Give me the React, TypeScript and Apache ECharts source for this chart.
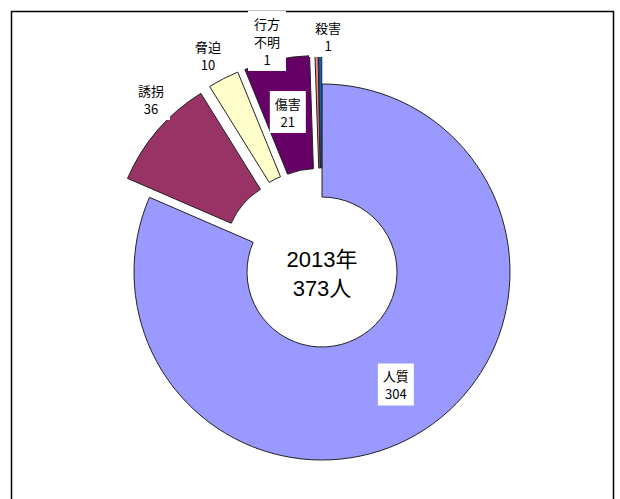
import React, { useEffect, useRef } from "react";
import * as echarts from "echarts";

const categories = ["人質", "誘拐", "脅迫", "傷害", "行方不明", "殺害"];
const labelNames = ["人質", "誘拐", "脅迫", "傷害", "行方\n不明", "殺害"];
const values = [304, 36, 10, 21, 1, 1];
const exploded = [false, true, true, true, true, true];
const colors = ["#9999FF", "#993366", "#FFFFCC", "#660066", "#FF8080", "#0066CC"];
const yearLabel = "2013年";
const unit = "人";

// placements for the labels drawn outside the ring (by category)
const outsideLabelPos: Record<string, [number, number]> = {
  誘拐: [151, 99],
  脅迫: [208, 55],
  行方不明: [267, 41],
  殺害: [328, 36],
};

const labelFont = "'Noto Sans CJK JP', sans-serif";

export default function App() {
  const ref = useRef<HTMLDivElement>(null);
  useEffect(() => {
    if (!ref.current) return;
    const chart = echarts.init(ref.current, null, { renderer: "svg" });
    const total = values.reduce((a, b) => a + b, 0);
    const data = categories.map((name, i) => ({
      name,
      value: values[i],
      selected: exploded[i],
      itemStyle: { color: colors[i] },
      label: {
        show: !outsideLabelPos[name],
        formatter: labelNames[i] + "\n" + values[i],
      },
    }));
    const outsideLabels = categories
      .map((name, i) => ({ name, i }))
      .filter((d) => outsideLabelPos[d.name])
      .map((d) => ({
        type: "text",
        x: outsideLabelPos[d.name][0],
        y: outsideLabelPos[d.name][1],
        z: 100,
        silent: true,
        style: {
          text: labelNames[d.i] + "\n" + values[d.i],
          fontSize: 13,
          lineHeight: 18,
          fontFamily: labelFont,
          fill: "#000",
          backgroundColor: "#fff",
          padding: [3, 6],
          textAlign: "center",
          textVerticalAlign: "middle",
        },
      }));
    chart.setOption({
      animation: false,
      backgroundColor: "#ffffff",
      graphic: [
        {
          type: "rect",
          shape: { x: 11.5, y: 11.5, width: 602, height: 520 },
          style: { fill: "none", stroke: "#000", lineWidth: 1.5 },
          silent: true,
          z: 0,
        },
        {
          type: "text",
          x: 322,
          y: 274,
          z: 100,
          style: {
            text: yearLabel + "\n" + total + unit,
            fontSize: 22,
            lineHeight: 29,
            fill: "#000",
            fontFamily: "'Liberation Sans', 'Noto Sans CJK JP', sans-serif",
            textAlign: "center",
            textVerticalAlign: "middle",
          },
        },
        ...outsideLabels,
      ],
      series: [
        {
          type: "pie",
          center: [322, 272],
          radius: [75, 188],
          startAngle: 90,
          clockwise: true,
          selectedMode: "multiple",
          selectedOffset: 29,
          avoidLabelOverlap: false,
          emphasis: { scale: false, disabled: true },
          silent: true,
          itemStyle: { borderColor: "#222", borderWidth: 1 },
          label: {
            show: true,
            position: "inside",
            color: "#000",
            fontSize: 13,
            lineHeight: 18,
            fontFamily: labelFont,
            backgroundColor: "#fff",
            padding: [3, 5],
            align: "center",
          },
          labelLine: { show: false },
          data,
        },
      ],
    });
    return () => chart.dispose();
  }, []);
  return (
    <div
      ref={ref}
      style={{ position: "fixed", left: 0, top: 0, width: 620, height: 499 }}
    />
  );
}
